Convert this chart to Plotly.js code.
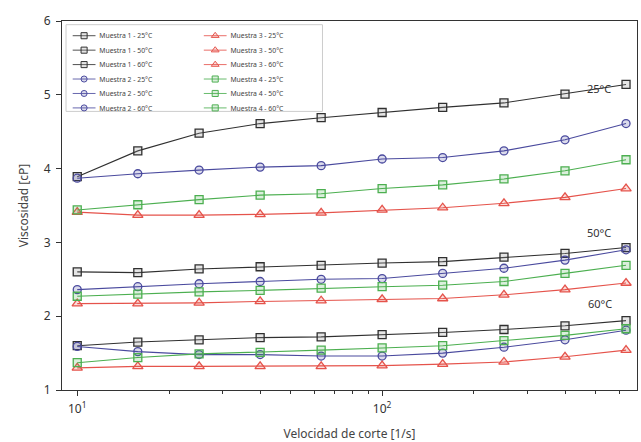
<!DOCTYPE html>
<html>
<head>
<meta charset="utf-8">
<script src="https://cdn.plot.ly/plotly-3.0.1.min.js"></script>
<style>html,body{margin:0;padding:0;background:#fff;}#chart{width:641px;height:442px;}</style>
</head>
<body>
<div id="chart"></div>
<script>
// Shear rate (1/s)
const shearRate = [10, 15.8, 25.1, 39.8, 63.1, 100, 158, 251, 398, 631];

// Viscosity (cP)
const m1_25 = [3.89, 4.24, 4.48, 4.61, 4.69, 4.76, 4.83, 4.89, 5.01, 5.14];
const m1_50 = [2.60, 2.59, 2.64, 2.67, 2.69, 2.72, 2.74, 2.80, 2.85, 2.93];
const m1_60 = [1.60, 1.65, 1.68, 1.71, 1.72, 1.75, 1.78, 1.82, 1.87, 1.94];

const m2_25 = [3.87, 3.93, 3.98, 4.02, 4.04, 4.13, 4.15, 4.24, 4.39, 4.61];
const m2_50 = [2.36, 2.40, 2.44, 2.47, 2.50, 2.51, 2.58, 2.65, 2.76, 2.90];
const m2_60 = [1.59, 1.52, 1.48, 1.48, 1.46, 1.46, 1.50, 1.58, 1.68, 1.81];

const m3_25 = [3.41, 3.37, 3.37, 3.38, 3.40, 3.44, 3.47, 3.53, 3.61, 3.73];
const m3_50 = [2.17, 2.17, 2.18, 2.20, 2.21, 2.23, 2.24, 2.29, 2.36, 2.45];
const m3_60 = [1.30, 1.32, 1.32, 1.32, 1.32, 1.33, 1.35, 1.38, 1.45, 1.54];

const m4_25 = [3.44, 3.51, 3.58, 3.64, 3.66, 3.73, 3.78, 3.86, 3.97, 4.12];
const m4_50 = [2.27, 2.30, 2.33, 2.35, 2.38, 2.40, 2.42, 2.47, 2.58, 2.69];
const m4_60 = [1.37, 1.44, 1.49, 1.51, 1.54, 1.57, 1.60, 1.67, 1.74, 1.83];

const tempLabels = ['25°C', '50°C', '60°C'];
const xTickVals = [10, 100];
const xTickText = ['10<sup>1</sup>', '10<sup>2</sup>'];

const samples = [
  {name: 'Muestra 1', data: [m1_25, m1_50, m1_60], color: '#303030', fill: 'rgba(150,150,150,0.25)', symbol: 'square', legend: 'legend'},
  {name: 'Muestra 2', data: [m2_25, m2_50, m2_60], color: '#4a4a9e', fill: 'rgba(74,74,158,0.2)', symbol: 'circle', legend: 'legend'},
  {name: 'Muestra 3', data: [m3_25, m3_50, m3_60], color: '#e5534b', fill: 'rgba(229,83,75,0.2)', symbol: 'triangle-up', legend: 'legend2'},
  {name: 'Muestra 4', data: [m4_25, m4_50, m4_60], color: '#4caf50', fill: 'rgba(76,175,80,0.2)', symbol: 'square', legend: 'legend2'}
];

const traces = [];
samples.forEach(s => {
  s.data.forEach((ys, i) => {
    traces.push({
      x: shearRate, y: ys, type: 'scatter', mode: 'lines+markers',
      name: s.name + ' - ' + tempLabels[i],
      legend: s.legend,
      line: {color: s.color, width: 1.1},
      marker: {symbol: s.symbol, size: s.symbol === 'triangle-up' ? 9 : 8, color: s.fill, line: {color: s.color, width: 1.3}}
    });
  });
});

const fontFam = 'Noto Sans, DejaVu Sans, sans-serif';
const legendCommon = {
  bgcolor: 'rgba(0,0,0,0)', borderwidth: 0, font: {family: fontFam, size: 9, color: '#444'},
  xanchor: 'left', yanchor: 'top', itemwidth: 30, tracegroupgap: 0
};

const layout = {
  width: 641, height: 442,
  margin: {l: 62, r: 4, t: 21, b: 52},
  paper_bgcolor: '#ffffff', plot_bgcolor: '#ffffff',
  font: {family: fontFam, size: 12, color: '#333'},
  showlegend: true,
  legend: Object.assign({}, legendCommon, {x: 0.012, y: 0.99}),
  legend2: Object.assign({}, legendCommon, {x: 0.24, y: 0.99}),
  xaxis: {
    type: 'log', range: [0.95, 2.836],
    tickmode: 'array', tickvals: xTickVals, ticktext: xTickText,
    ticks: 'outside', ticklen: 5, tickcolor: '#333', ticklabelstandoff: 3,
    showline: true, linecolor: '#333', linewidth: 1, mirror: true,
    showgrid: false, zeroline: false,
    minor: {tickmode: 'array', tickvals: [20,30,40,50,60,70,80,90,200,300,400,500,600], ticks: 'outside', ticklen: 2.5, tickcolor: '#333', showgrid: false},
    tickfont: {size: 12, color: '#333'},
    title: {text: 'Velocidad de corte [1/s]', font: {size: 12, color: '#444'}, standoff: 14}
  },
  yaxis: {
    range: [1, 6], dtick: 1,
    ticks: 'outside', ticklen: 5, tickcolor: '#333', ticklabelstandoff: 3,
    showline: true, linecolor: '#333', linewidth: 1, mirror: true,
    showgrid: false, zeroline: false,
    tickfont: {size: 12, color: '#333'},
    title: {text: 'Viscosidad [cP]', font: {size: 12, color: '#444'}, standoff: 12}
  },
  shapes: [{
    type: 'rect', xref: 'paper', yref: 'paper', layer: 'above',
    x0: 0.007, x1: 0.453, y0: 0.755, y1: 0.99,
    line: {color: '#cccccc', width: 1}, fillcolor: 'rgba(255,255,255,0.85)'
  }],
  annotations: [
    {x: Math.log10(515), y: 5.08, xref: 'x', yref: 'y', text: '25°C', showarrow: false, font: {size: 11, color: '#333'}},
    {x: Math.log10(515), y: 3.14, xref: 'x', yref: 'y', text: '50°C', showarrow: false, font: {size: 11, color: '#333'}},
    {x: Math.log10(520), y: 2.17, xref: 'x', yref: 'y', text: '60°C', showarrow: false, font: {size: 11, color: '#333'}}
  ]
};

Plotly.newPlot('chart', traces, layout, {displayModeBar: false, staticPlot: true}).then(gd => {
  ['legend', 'legend2'].forEach(id => {
    const g = gd.querySelector('g.' + id);
    if (g) {
      const t = g.getAttribute('transform') || '';
      g.setAttribute('transform', t + ' scale(0.76)');
    }
  });
});
</script>
</body>
</html>
